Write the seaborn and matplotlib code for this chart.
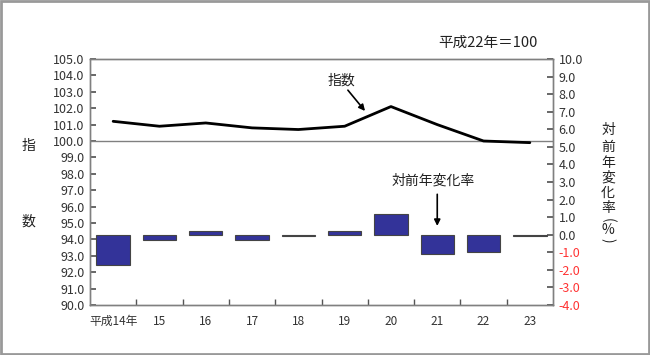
import matplotlib
matplotlib.use("Agg")
import matplotlib.pyplot as plt
import seaborn as sns
import pandas as pd
from matplotlib.patches import Rectangle

sns.set_theme(style="white")
plt.rcParams['font.family'] = ['Noto Sans CJK JP', 'DejaVu Sans']

categories = ["平成14年", "15", "16", "17", "18", "19", "20", "21", "22", "23"]
index_values = [101.2, 100.9, 101.1, 100.8, 100.7, 100.9, 102.1, 101.0, 100.0, 99.9]
rate_values = [-1.7, -0.3, 0.2, -0.3, -0.1, 0.2, 1.2, -1.1, -1.0, -0.1]
left_ticks = [90 + i for i in range(16)]
right_ticks = [-4 + i for i in range(15)]

df = pd.DataFrame({"cat": categories, "idx": index_values, "rate": rate_values})
df["pos"] = range(len(df))

fig = plt.figure(figsize=(6.5, 3.55), dpi=100)
fig.patch.set_facecolor("white")
ax = fig.add_axes([90/650, 1-305/355, (553-90)/650, (305-59)/355])
ax2 = ax.twinx()

# bars on right axis
sns.barplot(data=df, x="cat", y="rate", ax=ax2, color="#333399", width=0.72,
            edgecolor="#444444", linewidth=0.8, saturation=1)
# line on left axis
sns.lineplot(data=df, x="pos", y="idx", ax=ax, color="black", linewidth=2)
ax.axhline(100, color="#808080", linewidth=1, zorder=1)

ax.set_xlim(-0.5, 9.5)
ax.set_ylim(90, 105)
ax2.set_ylim(-4, 10)
ax.set_yticks(left_ticks)
ax.set_yticklabels([f"{v:.1f}" for v in left_ticks], fontsize=9, color="#333333")
ax2.set_yticks(right_ticks)
ax2.set_yticklabels([f"{v:.1f}" for v in right_ticks], fontsize=9)
for lbl, v in zip(ax2.get_yticklabels(), right_ticks):
    lbl.set_color("#ff3333" if v < 0 else "#333333")

ax.set_xticks(range(len(categories)))
ax.set_xticklabels(categories, fontsize=8.5, color="#333333")
ax.set_xticks([i + 0.5 for i in range(9)], minor=True)
ax.set_xlabel("")
ax.set_ylabel("")
ax2.set_xlabel("")
ax2.set_ylabel("")

ax.tick_params(axis="x", which="major", length=0, pad=7, bottom=True, labelbottom=True)
ax.tick_params(axis="x", which="minor", length=4, direction="in", color="#555555", bottom=True)
ax.tick_params(axis="y", length=4, direction="in", color="#555555", pad=4, left=True)
ax2.tick_params(axis="y", length=4, direction="in", color="#555555", pad=4, right=True)

for a in (ax, ax2):
    for s in a.spines.values():
        s.set_color("#808080")
        s.set_linewidth(1)

# axis titles
fig.text(28/650, 1-146/355, "指", fontsize=10, ha="center", va="center", color="#222222")
fig.text(28/650, 1-222/355, "数", fontsize=10, ha="center", va="center", color="#222222")
right_chars = ["対", "前", "年", "変", "化", "率", "(", "%", ")"]
right_ys = [130, 147, 163, 178, 193, 208, 220, 230, 240]
right_rot = [0, 0, 0, 0, 0, 0, -90, 0, -90]
for ch, yy, rot in zip(right_chars, right_ys, right_rot):
    fig.text(608/650, 1-yy/355, ch, fontsize=10, ha="center", va="center",
             color="#222222", rotation=rot)
fig.text(488/650, 1-43/355, "平成22年＝100", fontsize=10.5, ha="center", va="center", color="#222222")

# annotations
ax.text(4.94, 103.7, "指数", fontsize=10, ha="center", va="center", color="#222222")
ax.annotate("", xy=(5.44, 101.83), xytext=(5.07, 103.1),
            arrowprops=dict(arrowstyle="-|>", color="black", lw=1.2, mutation_scale=9,
                            shrinkA=0, shrinkB=0))
ax2.text(6.91, 3.11, "対前年変化率", fontsize=10, ha="center", va="center", color="#222222")
ax2.annotate("", xy=(7.0, 0.5), xytext=(7.0, 2.3),
             arrowprops=dict(arrowstyle="-|>", color="black", lw=1.2, mutation_scale=9,
                             shrinkA=0, shrinkB=0))

# figure border
fig.patches.append(Rectangle((0.002, 0.003), 0.996, 0.994, transform=fig.transFigure,
                             fill=False, edgecolor="#999999", linewidth=2))

fig.savefig("out.png", dpi=100)
